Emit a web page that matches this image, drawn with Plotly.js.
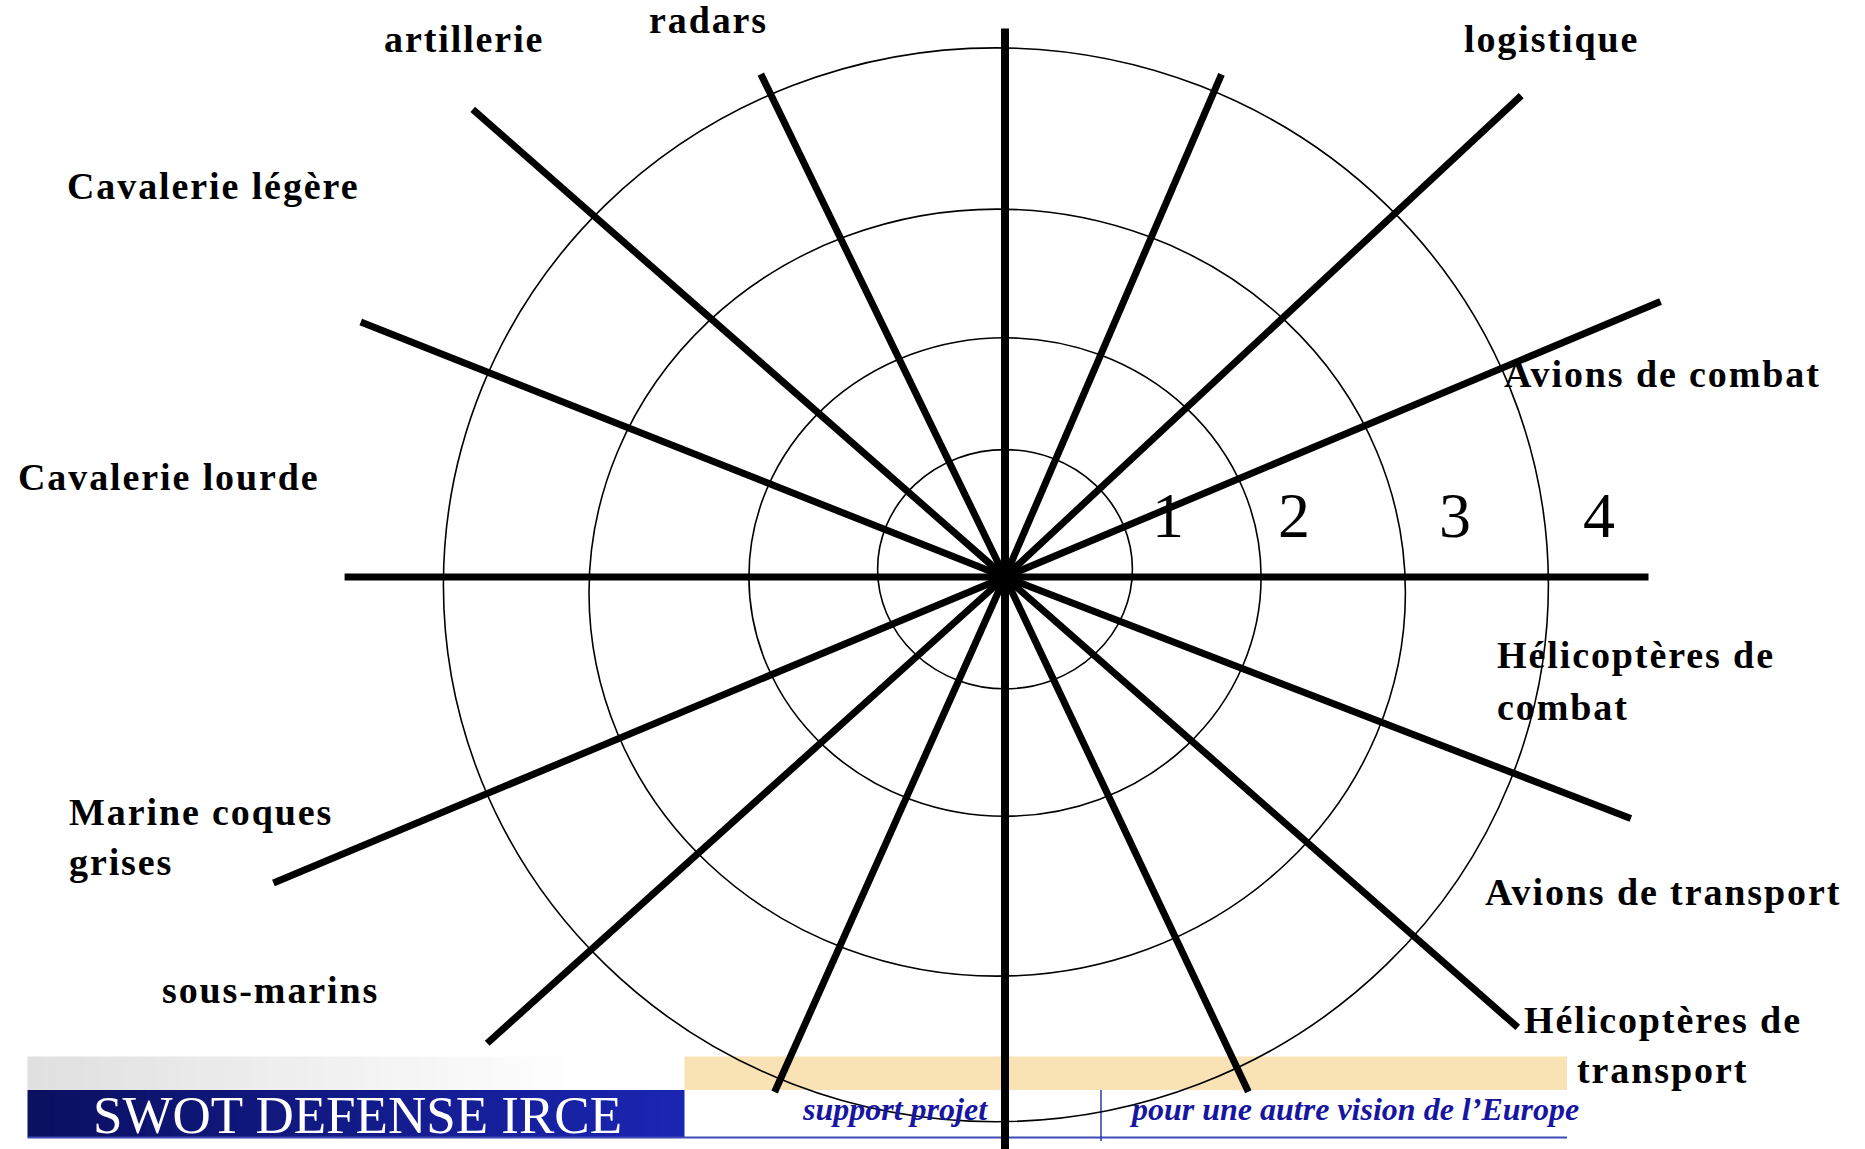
<!DOCTYPE html>
<html>
<head>
<meta charset="utf-8">
<script src="https://cdn.plot.ly/plotly-3.0.1.min.js"></script>
<style>
  html, body { margin: 0; padding: 0; background: #ffffff; }
  #chart { width: 1865px; height: 1149px; }
</style>
</head>
<body>
<div id="chart"></div>
<script>
// ---------------- DATA ----------------
// Ring levels (scale 1..4) and their drawn radii (axis units)
const ringLevels   = [1, 2, 3, 4];
const ringRadiusX  = [0.98, 1.97, 3.14, 4.25];
const ringRadiusY  = [0.92, 1.84, 2.95, 4.13];
const ringOffsetX  = [0.00, 0.00, -0.06, -0.07];
const ringOffsetY  = [0.06, 0.00, -0.12, -0.06];

// Spokes: direction (degrees, counter-clockwise from east) and length (axis units)
const spokeAngle  = [90, 270, 0, 180, 66.7, 245.9, 43.0, 222.0, 22.8, 202.7, 115.9, 295.3, 138.7, 318.7, 158.4, 338.9];
const spokeLength = [4.22, 4.60, 4.95, 5.08, 4.21, 4.34, 5.43, 5.36, 5.47, 6.10, 4.30, 4.38, 5.45, 5.25, 5.33, 5.16];

// Category labels around the diagram
const categoryLabels = [
  "artillerie", "radars", "logistique", "Cavalerie légère", "Cavalerie lourde",
  "Avions de combat", "Hélicoptères de combat", "Avions de transport",
  "Hélicoptères de transport", "Marine coques grises", "sous-marins"
];

// Banner texts
const bannerTitle = "SWOT DEFENSE IRCE";
const bannerLeft  = "support projet";
const bannerRight = "pour une autre vision de l’Europe";

// ---------------- LAYOUT HELPERS ----------------
const W = 1865, H = 1149;
const CXP = 1005, CYP = 577, SCALE = 130;  // centre of the diagram (px) and px per unit
const px = x => x / W;
const py = y => 1 - y / H;
const SERIF = "Liberation Serif, Times New Roman, serif";

// ---------------- TRACES ----------------
function spokeTrace(filterFn, width) {
  const xs = [], ys = [];
  spokeAngle.forEach((a, i) => {
    if (!filterFn(a)) return;
    const r = a * Math.PI / 180;
    xs.push(0, spokeLength[i] * Math.cos(r), null);
    ys.push(0, spokeLength[i] * Math.sin(r), null);
  });
  return {
    type: "scatter", mode: "lines", x: xs, y: ys,
    line: { color: "#000000", width: width },
    hoverinfo: "skip", showlegend: false, cliponaxis: true
  };
}
const traces = [
  spokeTrace(a => a !== 90 && a !== 270, 7),
  spokeTrace(a => a === 90 || a === 270, 8)
];

// ---------------- SHAPES ----------------
const shapes = [];
function mixHex(c1, c2, t) {
  const a = parseInt(c1.slice(1), 16), b = parseInt(c2.slice(1), 16);
  const r = Math.round(((a >> 16) & 255) * (1 - t) + ((b >> 16) & 255) * t);
  const g = Math.round(((a >> 8) & 255) * (1 - t) + ((b >> 8) & 255) * t);
  const bl = Math.round((a & 255) * (1 - t) + (b & 255) * t);
  return "rgb(" + r + "," + g + "," + bl + ")";
}
function gradientRect(x0, x1, y0, y1, c1, c2, n) {
  const step = (x1 - x0) / n;
  for (let i = 0; i < n; i++) {
    shapes.push({
      type: "rect", xref: "paper", yref: "paper", layer: "below",
      x0: px(x0 + i * step), x1: px(Math.min(x1, x0 + (i + 1) * step + 1)),
      y0: py(y1), y1: py(y0),
      fillcolor: mixHex(c1, c2, i / (n - 1)), line: { width: 0 }
    });
  }
}
// grey fading bar
gradientRect(27.5, 590, 1056.5, 1090, "#e0e0e0", "#ffffff", 40);
// navy title box
gradientRect(27.5, 684.5, 1090, 1137, "#0b1060", "#1a25b2", 50);
// peach bar
shapes.push({ type: "rect", xref: "paper", yref: "paper", layer: "below",
  x0: px(684.5), x1: px(1567), y0: py(1090), y1: py(1056.5),
  fillcolor: "#f9e2b4", line: { width: 0 } });
// underline
shapes.push({ type: "line", xref: "paper", yref: "paper", layer: "below",
  x0: px(27.5), x1: px(1567), y0: py(1137.5), y1: py(1137.5),
  line: { color: "#3f4bb5", width: 2 } });
// divider
shapes.push({ type: "line", xref: "paper", yref: "paper", layer: "below",
  x0: px(1101), x1: px(1101), y0: py(1090), y1: py(1141),
  line: { color: "#2b38a8", width: 1.5 } });

// rings (through the data axes)
ringLevels.forEach((lv, i) => {
  shapes.push({
    type: "circle", xref: "x", yref: "y", layer: "below",
    x0: ringOffsetX[i] - ringRadiusX[i], x1: ringOffsetX[i] + ringRadiusX[i],
    y0: ringOffsetY[i] - ringRadiusY[i], y1: ringOffsetY[i] + ringRadiusY[i],
    line: { color: "#000000", width: 1.6 }, fillcolor: "rgba(0,0,0,0)"
  });
});

// ---------------- ANNOTATIONS ----------------
const annotations = [];
const LBL = 38;
function label(text, x, baseline, anchor) {
  annotations.push({
    xref: "paper", yref: "paper", x: px(x), y: py(baseline - 0.3375 * LBL),
    xanchor: anchor || "left", yanchor: "middle", showarrow: false,
    text: '<span style="letter-spacing:1.9px"><b>' + text + '</b></span>',
    font: { family: SERIF, size: LBL, color: "#000000" }
  });
}
// placements (left x or centre x, baseline) in page pixels
label(categoryLabels[0], 382, 51.7);
label(categoryLabels[1], 646.7, 33);
label(categoryLabels[2], 1461.7, 51.7);
label(categoryLabels[3], 65, 199.3);
label(categoryLabels[4], 16, 490);
label(categoryLabels[5], 1501.7, 387.3);
label("Hélicoptères de", 1495, 668.3);
label("combat", 1495, 720);
label(categoryLabels[7], 1483.3, 905);
label("Hélicoptères de", 1662.5, 1033.3, "center");
label("transport", 1662.5, 1083.3, "center");
label("Marine coques", 66.7, 825);
label("grises", 66.7, 875);
label(categoryLabels[10], 160, 1003.3);

// ring level numbers
const levelX = [1167.5, 1294.3, 1455, 1598.6];
ringLevels.forEach((lv, i) => {
  annotations.push({
    xref: "paper", yref: "paper", x: px(levelX[i]), y: py(536.7 - 0.3375 * 64),
    xanchor: "center", yanchor: "middle", showarrow: false,
    text: String(lv), font: { family: SERIF, size: 64, color: "#000000" }
  });
});

// banner texts
annotations.push({
  xref: "paper", yref: "paper", x: px(357), y: py(1133.3 - 0.3375 * 53),
  xanchor: "center", yanchor: "middle", showarrow: false,
  text: bannerTitle, font: { family: SERIF, size: 53, color: "#ffffff" }
});
annotations.push({
  xref: "paper", yref: "paper", x: px(894.5), y: py(1120 - 0.3375 * 32),
  xanchor: "center", yanchor: "middle", showarrow: false,
  text: "<b><i>" + bannerLeft + "</i></b>", font: { family: SERIF, size: 32, color: "#1616a0" }
});
annotations.push({
  xref: "paper", yref: "paper", x: px(1126.6), y: py(1120 - 0.3375 * 32),
  xanchor: "left", yanchor: "middle", showarrow: false,
  text: "<b><i>" + bannerRight + "</i></b>", font: { family: SERIF, size: 32, color: "#1616a0" }
});

// ---------------- LAYOUT ----------------
const layout = {
  width: W, height: H,
  margin: { l: 0, r: 0, t: 0, b: 0, pad: 0 },
  paper_bgcolor: "#ffffff", plot_bgcolor: "#ffffff",
  showlegend: false,
  xaxis: { range: [-CXP / SCALE, (W - CXP) / SCALE], visible: false, showgrid: false, zeroline: false, fixedrange: true },
  yaxis: { range: [-(H - CYP) / SCALE, CYP / SCALE], visible: false, showgrid: false, zeroline: false, fixedrange: true },
  shapes: shapes,
  annotations: annotations
};

Plotly.newPlot("chart", traces, layout, { displayModeBar: false, staticPlot: true });
</script>
</body>
</html>
